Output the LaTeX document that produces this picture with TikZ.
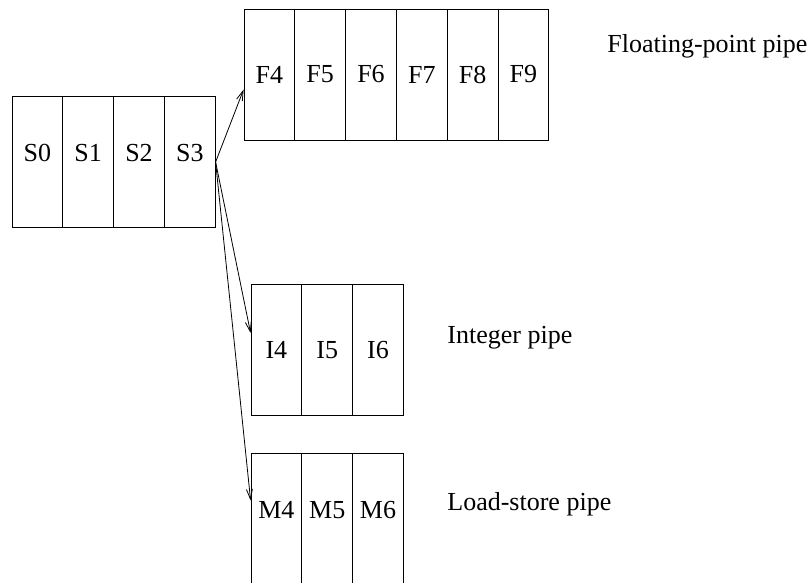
\documentclass[tikz,border=0pt]{standalone}
\usepackage{fontspec}
\setmainfont{Liberation Serif}
\usetikzlibrary{arrows.meta}

\begin{document}
\begin{tikzpicture}[x=1pt, y=-1pt, node distance=50.8pt, line width=0.8pt,
  >={Straight Barb[length=10pt, width=6pt]},
  every node/.style={font=\fontsize{26}{30}\selectfont},
  stage/.style={draw, minimum width=50.8pt, minimum height=131pt, inner sep=0pt},
  raised/.style={text depth=18pt}]
\useasboundingbox (0,0) rectangle (809,582);
\clip (0,0) rectangle (809,582);

\node (s0) [stage, raised] at (37.4,162) {S0};
\node (s1) [stage, raised, right of=s0] {S1};
\node (s2) [stage, raised, right of=s1] {S2};
\node (s3) [stage, raised, right of=s2] {S3};

\node (f4) [stage] at (269.4,74.5) {F4};
\node (f5) [stage, right of=f4] {F5};
\node (f6) [stage, right of=f5] {F6};
\node (f7) [stage, right of=f6] {F7};
\node (f8) [stage, right of=f7] {F8};
\node (f9) [stage, right of=f8] {F9};

\node (i4) [stage] at (276.4,350) {I4};
\node (i5) [stage, right of=i4] {I5};
\node (i6) [stage, right of=i5] {I6};

\node (m4) [stage, raised] at (276.4,518.5) {M4};
\node (m5) [stage, raised, right of=m4] {M5};
\node (m6) [stage, raised, right of=m5] {M6};

\node (fp label) [anchor=base west, inner sep=0pt] at (607,52) {Floating-point pipe};
\node (int label) [anchor=base west, inner sep=0pt] at (447,343) {Integer pipe};
\node (ls label) [anchor=base west, inner sep=0pt] at (447,510) {Load-store pipe};

\draw [->] (s3.east) -- ([yshift=-15pt]f4.west);
\draw [->] (s3.east) -- ([yshift=17pt]i4.west);
\draw [->] (s3.east) -- ([yshift=18pt]m4.west);

\end{tikzpicture}
\end{document}
